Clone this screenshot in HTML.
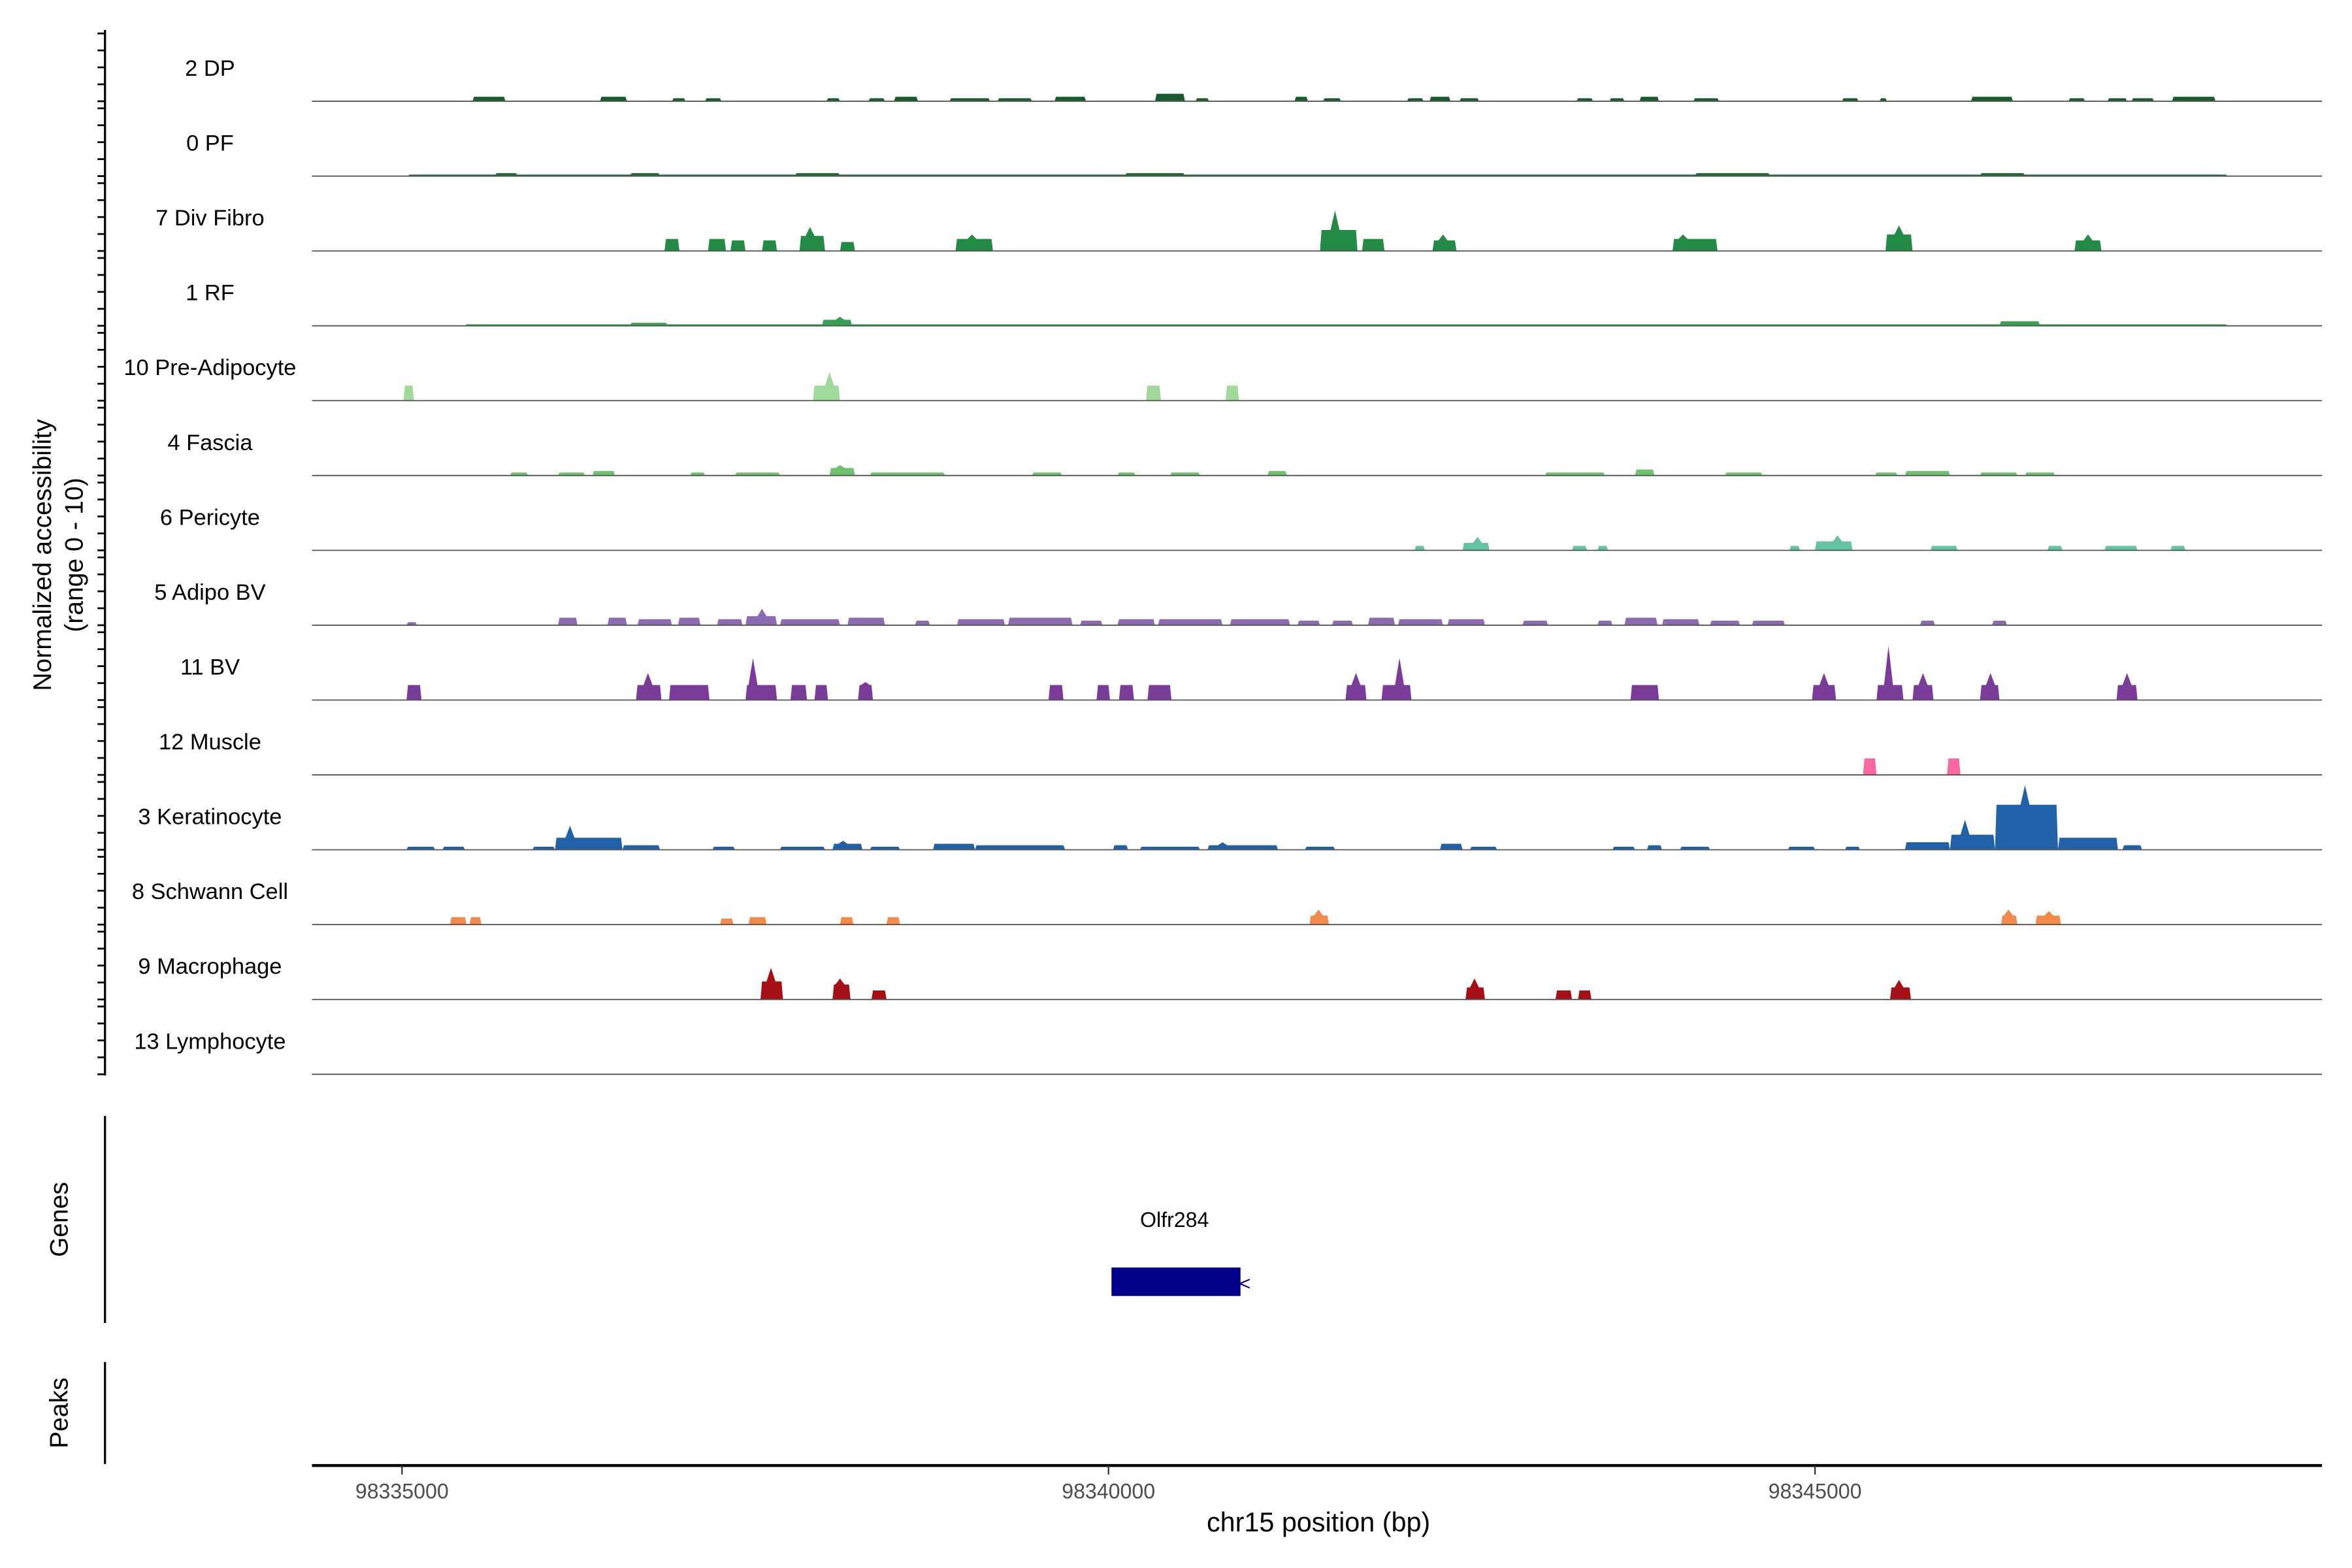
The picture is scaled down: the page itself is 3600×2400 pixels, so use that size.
<!DOCTYPE html>
<html><head><meta charset="utf-8"><style>
html,body{margin:0;padding:0;background:#fff;}
svg{display:block;}
text{font-family:"Liberation Sans",Arial,sans-serif;}
</style></head><body>
<svg id="s" width="3600" height="2400" viewBox="0 0 1568 1045.33" xmlns="http://www.w3.org/2000/svg">
<rect width="1568" height="1046" fill="#fff"/>
<g id="tracks"></g>
<line x1="70" y1="20" x2="70" y2="717" stroke="#000" stroke-width="1.4"/>
<g id="ticks"></g>
<text transform="translate(34,370) rotate(-90)" text-anchor="middle" font-size="17">Normalized accessibility</text>
<text transform="translate(55,370) rotate(-90)" text-anchor="middle" font-size="17">(range 0 - 10)</text>
<line x1="70" y1="744" x2="70" y2="882" stroke="#000" stroke-width="1.4"/>
<text transform="translate(45,813) rotate(-90)" text-anchor="middle" font-size="17">Genes</text>
<text x="783" y="818" text-anchor="middle" font-size="14">Olfr284</text>
<rect x="741" y="845" width="86" height="19" fill="#00008B"/>
<text x="830" y="860" text-anchor="middle" font-size="13" fill="#00008B">&lt;</text>
<line x1="70" y1="908" x2="70" y2="976" stroke="#000" stroke-width="1.4"/>
<text transform="translate(45,942) rotate(-90)" text-anchor="middle" font-size="17">Peaks</text>
<line x1="208" y1="977" x2="1548" y2="977" stroke="#000" stroke-width="2"/>
<line x1="268" y1="977" x2="268" y2="983" stroke="#333"/>
<line x1="739" y1="977" x2="739" y2="983" stroke="#333"/>
<line x1="1210" y1="977" x2="1210" y2="983" stroke="#333"/>
<text x="268" y="999" text-anchor="middle" font-size="14" fill="#4d4d4d">98335000</text>
<text x="739" y="999" text-anchor="middle" font-size="14" fill="#4d4d4d">98340000</text>
<text x="1210" y="999" text-anchor="middle" font-size="14" fill="#4d4d4d">98345000</text>
<text x="879" y="1021" text-anchor="middle" font-size="18">chr15 position (bp)</text>
</svg>
<script>
var NS="http://www.w3.org/2000/svg";
var tracks=[
["2 DP","#1a5a2e",[[315,337,3],[400,418,3],[448,457,2],[470,481,2],[551,560,2],[579,590,2],[596,612,3],[633,660,2],[665,688,2],[703,724,3],[770,790,5],[797,806,2],[863,872,3],[882,894,2],[938,949,2],[953,967,3],[973,986,2],[1051,1062,2],[1073,1083,2],[1093,1106,3],[1129,1146,2],[1228,1239,2],[1253,1258,2],[1314,1342,3],[1379,1390,2],[1405,1418,2],[1421,1436,2],[1448,1477,3]]],
["0 PF","#1c6e36",[[272,1485,1],[330,345,2],[420,440,2],[530,560,2],[750,790,2],[1130,1180,2],[1320,1350,2]]],
["7 Div Fibro","#238b45",[[443,453,8],[472,484,8],[487,497,7],[508,518,7],[533,550,10,540,16],[560,570,6],[637,662,8,648,11],[880,905,14,890,27],[908,923,8],[955,971,7,962,11],[1115,1145,8,1122,11],[1257,1275,11,1266,17],[1383,1401,7,1392,11]]],
["1 RF","#3a9e54",[[310,1485,1],[420,445,2],[548,568,4,560,6],[1333,1360,3]]],
["10 Pre-Adipocyte","#a1d99b",[[269,276,10],[542,560,10,553,19],[764,774,10],[817,826,10]]],
["4 Fascia","#6fc071",[[340,352,2],[372,390,2],[395,410,3],[460,470,2],[490,520,2],[553,570,5,560,7],[580,630,2],[688,708,2],[745,757,2],[780,800,2],[845,858,3],[1030,1070,2],[1090,1103,4],[1150,1175,2],[1250,1265,2],[1270,1300,3],[1320,1345,2],[1350,1370,2]]],
["6 Pericyte","#66c2a4",[[943,950,3],[975,993,5,985,9],[1048,1058,3],[1065,1072,3],[1193,1200,3],[1210,1235,6,1225,10],[1287,1305,3],[1365,1375,3],[1403,1425,3],[1447,1457,3]]],
["5 Adipo BV","#8c6bb1",[[271,278,2],[372,385,5],[405,418,5],[425,448,4],[452,467,5],[478,495,4],[497,518,6,508,11],[520,560,4],[565,590,5],[610,620,3],[638,670,4],[672,715,5],[720,735,3],[745,770,4],[772,815,4],[820,860,4],[865,880,3],[888,902,3],[912,930,5],[932,962,4],[965,990,4],[1015,1032,3],[1065,1075,3],[1083,1105,5],[1108,1133,4],[1140,1160,3],[1168,1190,3],[1280,1290,3],[1328,1338,3]]],
["11 BV","#7b3b98",[[271,281,10],[424,441,10,432,18],[446,473,10],[497,518,10,502,28],[527,538,10],[543,552,10],[572,582,10,577,12],[699,709,10],[731,740,10],[746,756,10],[765,781,10],[897,911,10,904,18],[921,941,10,933,28],[1087,1106,10],[1208,1224,10,1216,18],[1251,1269,10,1259,36],[1275,1289,10,1282,18],[1320,1333,10,1327,18],[1411,1425,10,1418,18]]],
["12 Muscle","#f768a1",[[1242,1251,11],[1298,1307,11]]],
["3 Keratinocyte","#2161a8",[[271,290,2],[295,310,2],[355,370,2],[370,415,8,380,16],[415,440,3],[475,490,2],[520,550,2],[555,575,4,562,6],[580,600,2],[622,650,4],[650,710,3],[742,752,3],[760,800,2],[805,852,3,815,5],[870,890,2],[960,975,4],[980,998,2],[1075,1090,2],[1098,1108,3],[1120,1140,2],[1192,1210,2],[1230,1240,2],[1270,1300,5],[1300,1330,10,1310,20],[1330,1372,30,1350,43],[1372,1412,8],[1415,1428,3]]],
["8 Schwann Cell","#f4894c",[[300,311,5],[313,321,5],[480,489,4],[499,511,5],[560,569,5],[591,600,5],[873,886,6,879,10],[1334,1345,6,1339,10],[1357,1374,6,1366,9]]],
["9 Macrophage","#a50f15",[[507,522,12,514,21],[555,567,10,560,14],[581,591,6],[977,990,8,983,14],[1037,1048,6],[1052,1061,6],[1260,1274,8,1266,13]]],
["13 Lymphocyte","#888",[]]
];
var g=document.getElementById("tracks"),tk=document.getElementById("ticks");
function el(n,a,p){var e=document.createElementNS(NS,n);for(var k in a)e.setAttribute(k,a[k]);(p||g).appendChild(e);return e;}
tracks.forEach(function(t,i){
 var b=67.5+49.9*i;
 t[2].forEach(function(p){
  var x1=p[0],x2=p[1],h=p[2],pts;
  if(p.length>3){var sx=p[3],sh=p[4];
   pts=[[x1,b],[x1+1,b-h],[Math.max(x1+1,sx-3),b-h],[sx,b-sh],[Math.min(x2-1,sx+3),b-h],[x2-1,b-h],[x2,b]];}
  else pts=[[x1,b],[x1+1,b-h],[x2-1,b-h],[x2,b]];
  el("polygon",{points:pts.map(function(q){return q[0]+","+q[1]}).join(" "),fill:t[1]});
 });
 el("line",{x1:208,y1:b,x2:1548,y2:b,stroke:"#555","stroke-width":0.8});
 var txt=el("text",{x:140,y:b-17,"text-anchor":"middle","font-size":15});txt.textContent=t[0];
 for(var j=0;j<5;j++){var y=b-11.3*j;el("line",{x1:65,y1:y,x2:70,y2:y,stroke:"#000","stroke-width":1.2},tk);}
});
</script>
</body></html>
